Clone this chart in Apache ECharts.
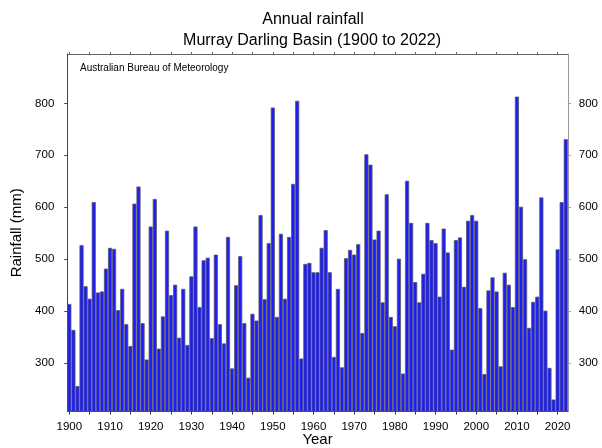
<!DOCTYPE html>
<html>
<head>
<meta charset="utf-8">
<script src="https://cdn.jsdelivr.net/npm/echarts@6/dist/echarts.min.js"></script>
<style>
  html, body { margin: 0; padding: 0; background: #fff; }
  #chart { width: 602px; height: 448px; }
</style>
</head>
<body>
<div id="chart"></div>
<script>
// Annual rainfall totals (mm), Murray Darling Basin, 1900-2022
const years = [];
for (let y = 1900; y <= 2022; y++) years.push(String(y));

const rainfall = [
  414, 364, 256, 527, 448, 424, 610, 436, 438, 482,   // 1900s
  522, 520, 402, 443, 375, 333, 607, 640, 377, 307,   // 1910s
  563, 616, 328, 390, 555, 431, 451, 349, 443, 335,   // 1920s
  467, 563, 408, 498, 503, 348, 509, 375, 338, 543,   // 1930s
  290, 450, 506, 377, 272, 395, 382, 585, 423, 531,   // 1940s
  792, 389, 549, 424, 543, 645, 805, 309, 491, 493,   // 1950s
  475, 475, 522, 556, 475, 312, 443, 292, 502, 518,   // 1960s
  509, 529, 358, 702, 682, 538, 555, 417, 625, 389,   // 1970s
  371, 501, 280, 651, 570, 456, 417, 472, 570, 537,   // 1980s
  531, 428, 559, 513, 326, 537, 542, 447, 574, 585,   // 1990s
  574, 406, 279, 440, 465, 438, 294, 474, 451, 408,   // 2000s
  813, 601, 500, 368, 418, 428, 619, 401, 291, 230,   // 2010s
  519, 610, 731                                       // 2020s
];

const yTicks = [300, 400, 500, 600, 700, 800];
const yMin = 207;
const yMax = 895;

const FONT = '"Liberation Sans", Arial, sans-serif';

const chart = echarts.init(document.getElementById('chart'), null, { renderer: 'canvas' });

const tickEvery5 = (i) => Number(years[i]) % 5 === 0;
const labelEvery10 = (i) => Number(years[i]) % 10 === 0;

chart.setOption({
  animation: false,
  backgroundColor: '#ffffff',
  title: [
    {
      text: 'Annual rainfall',
      left: 313, top: 12, textAlign: 'center', padding: 0,
      textStyle: { fontFamily: FONT, fontSize: 16, fontWeight: 'normal', color: '#000' }
    },
    {
      text: 'Murray Darling Basin (1900 to 2022)',
      left: 312, top: 33, textAlign: 'center', padding: 0,
      textStyle: { fontFamily: FONT, fontSize: 16, fontWeight: 'normal', color: '#000' }
    },
    {
      text: 'Australian Bureau of Meteorology',
      left: 80, top: 63, padding: 0,
      textStyle: { fontFamily: FONT, fontSize: 10, fontWeight: 'normal', color: '#000' }
    }
  ],
  grid: {
    left: 67.3, right: 34.2, top: 54, bottom: 36.5,
    outerBoundsMode: 'none'
  },
  xAxis: [
    {
      type: 'category',
      data: years,
      position: 'bottom',
      boundaryGap: true,
      name: 'Year',
      nameLocation: 'middle',
      nameGap: 21,
      nameMoveOverlap: false,
      nameTextStyle: { fontFamily: FONT, fontSize: 15, color: '#000' },
      axisLine: { show: true, lineStyle: { color: '#333', width: 1 } },
      axisTick: { show: true, interval: tickEvery5, alignWithLabel: true, length: 3, inside: false,
                  lineStyle: { color: '#333' } },
      axisLabel: { interval: labelEvery10, margin: 9, fontFamily: FONT, fontSize: 11.5, color: '#000' },
      splitLine: { show: false }
    },
    {
      type: 'category',
      data: years,
      position: 'top',
      boundaryGap: true,
      axisLine: { show: true, lineStyle: { color: '#666', width: 1 } },
      axisTick: { show: true, interval: tickEvery5, alignWithLabel: true, length: 2, inside: false,
                  lineStyle: { color: '#666' } },
      axisLabel: { show: false },
      splitLine: { show: false }
    }
  ],
  yAxis: [
    {
      type: 'value',
      position: 'left',
      min: yMin, max: yMax,
      name: 'Rainfall (mm)',
      nameLocation: 'middle',
      nameGap: 43,
      nameRotate: 90,
      nameTextStyle: { fontFamily: FONT, fontSize: 15, color: '#000' },
      axisLine: { show: true, lineStyle: { color: '#444', width: 1 } },
      axisTick: { show: true, customValues: yTicks, length: 3, inside: false, lineStyle: { color: '#444' } },
      axisLabel: { customValues: yTicks, margin: 13, fontFamily: FONT, fontSize: 11.5, color: '#000' },
      splitLine: { show: false }
    },
    {
      type: 'value',
      position: 'right',
      min: yMin, max: yMax,
      axisLine: { show: true, lineStyle: { color: '#999', width: 1 } },
      axisTick: { show: true, customValues: yTicks, length: 3, inside: false, lineStyle: { color: '#999' } },
      axisLabel: { customValues: yTicks, margin: 11, fontFamily: FONT, fontSize: 11.5, color: '#000' },
      splitLine: { show: false }
    }
  ],
  series: [
    {
      type: 'bar',
      name: 'Rainfall',
      data: rainfall,
      xAxisIndex: 0,
      yAxisIndex: 0,
      barCategoryGap: '0%',
      itemStyle: { color: '#1c1cff', borderColor: '#5a5a5a', borderWidth: 0.8 }
    }
  ]
});
</script>
</body>
</html>
